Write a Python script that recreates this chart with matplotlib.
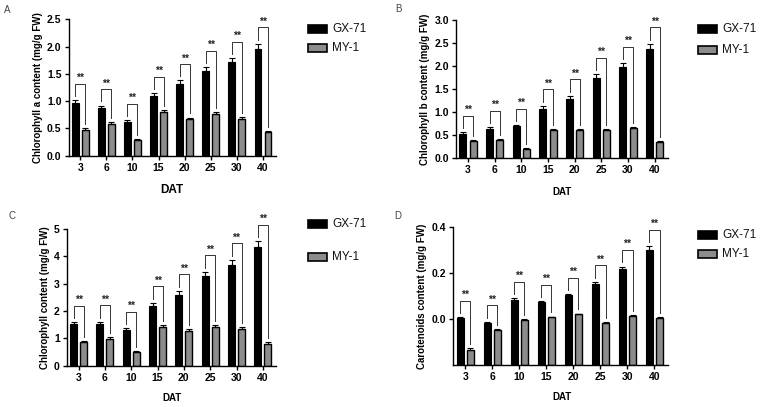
import numpy as np
import matplotlib
matplotlib.use("Agg")
import matplotlib.pyplot as plt
from matplotlib.patches import Rectangle

plt.rcParams['font.family'] = ['Liberation Sans', 'DejaVu Sans']

# données
dat = ["3", "6", "10", "15", "20", "25", "30", "40"]

chla_gx = [0.97, 0.87, 0.61, 1.10, 1.32, 1.55, 1.71, 1.95]
chla_gx_err = [0.05, 0.05, 0.04, 0.05, 0.06, 0.07, 0.08, 0.10]
chla_my = [0.47, 0.59, 0.28, 0.80, 0.67, 0.77, 0.68, 0.44]
chla_my_err = [0.03, 0.03, 0.02, 0.04, 0.03, 0.03, 0.03, 0.02]

chlb_gx = [0.53, 0.64, 0.69, 1.08, 1.28, 1.74, 1.97, 2.37]
chlb_gx_err = [0.03, 0.03, 0.03, 0.06, 0.07, 0.08, 0.09, 0.11]
chlb_my = [0.38, 0.39, 0.21, 0.62, 0.61, 0.62, 0.65, 0.36]
chlb_my_err = [0.02, 0.02, 0.01, 0.02, 0.03, 0.02, 0.03, 0.02]

chl_gx = [1.52, 1.52, 1.30, 2.18, 2.60, 3.28, 3.70, 4.33]
chl_gx_err = [0.08, 0.09, 0.08, 0.12, 0.14, 0.16, 0.17, 0.22]
chl_my = [0.85, 0.99, 0.50, 1.43, 1.28, 1.41, 1.33, 0.81]
chl_my_err = [0.06, 0.06, 0.03, 0.06, 0.06, 0.07, 0.07, 0.04]

car_gx = [0.004, -0.016, 0.084, 0.073, 0.102, 0.153, 0.215, 0.298]
car_gx_err = [0.003, 0.003, 0.005, 0.004, 0.004, 0.008, 0.012, 0.017]
car_my = [-0.135, -0.048, -0.003, 0.007, 0.020, -0.016, 0.013, 0.006]
car_my_err = [0.008, 0.004, 0.003, 0.003, 0.003, 0.003, 0.003, 0.003]

W, H = 764, 407
fig = plt.figure(figsize=(W / 100, H / 100), dpi=100)
GREY = '#8c8c8c'


def px_axes(x0, x1, ytop, ybot):
    return fig.add_axes([x0 / W, 1 - ybot / H, (x1 - x0) / W, (ybot - ytop) / H])


def ftext(px, py, s, **kw):
    fig.text(px / W, 1 - py / H, s, **kw)


def legende(x0, y_gx, y_my):
    # légende dessinée à la main (carrés + texte)
    for y, col, lab in [(y_gx, 'black', 'GX-71'), (y_my, GREY, 'MY-1')]:
        fig.patches.append(Rectangle((x0 / W, 1 - (y + 4) / H), 19 / W, 8 / H,
                                     facecolor=col, edgecolor='black', linewidth=1.2,
                                     transform=fig.transFigure, figure=fig))
        ftext(x0 + 24, y, lab, fontsize=8.5, ha='left', va='center', color='#111111')


def panel(ax, gx, gxe, my, mye, ymin, ymax, yticks, ylab, ticklabels):
    x = np.arange(len(dat))
    rng = ymax - ymin
    ax.bar(x - 0.19, np.array(gx) - ymin, bottom=ymin, width=0.26, color='black',
           edgecolor='black', linewidth=0.8)
    ax.bar(x + 0.19, np.array(my) - ymin, bottom=ymin, width=0.26, color=GREY,
           edgecolor='black', linewidth=1.0)
    ax.errorbar(x - 0.19, gx, yerr=[np.zeros(len(gx)), gxe], fmt='none', ecolor='black',
                elinewidth=0.8, capsize=2.5, capthick=0.8)
    ax.errorbar(x + 0.19, my, yerr=[np.zeros(len(my)), mye], fmt='none', ecolor='black',
                elinewidth=0.8, capsize=2.5, capthick=0.8)
    # crochets de significativité
    for i in range(len(x)):
        a = gx[i] + gxe[i]
        b = my[i] + mye[i]
        top = max(a, b) + 0.12 * rng
        ax.plot([x[i] - 0.19, x[i] - 0.19, x[i] + 0.19, x[i] + 0.19],
                [a + 0.03 * rng, top, top, b + 0.03 * rng], color='#333333', lw=0.7,
                clip_on=False)
        ax.text(x[i], top + 0.005 * rng, '**', ha='center', va='bottom', fontsize=7.5,
                fontweight='bold', color='#222222')
    ax.set_xlim(-0.45, 7.5)
    ax.set_ylim(ymin, ymax)
    ax.set_yticks(yticks)
    ax.set_yticklabels(ticklabels, fontsize=7.5, fontweight='bold')
    ax.set_xticks(x)
    ax.set_xticklabels(dat, fontsize=7.5, fontweight='bold')
    ax.tick_params(length=3, width=1, pad=2)
    for s in ['top', 'right']:
        ax.spines[s].set_visible(False)
    for s in ['left', 'bottom']:
        ax.spines[s].set_linewidth(1.0)
    ax.set_ylabel(ylab, fontsize=7, fontweight='bold', labelpad=3)


axA = px_axes(68.5, 276, 19.3, 155.7)
panel(axA, chla_gx, chla_gx_err, chla_my, chla_my_err, 0, 2.5,
      [0, 0.5, 1.0, 1.5, 2.0, 2.5], 'Chlorophyll a content (mg/g FW)',
      ['0.0', '0.5', '1.0', '1.5', '2.0', '2.5'])

axB = px_axes(456, 668, 20, 158.3)
panel(axB, chlb_gx, chlb_gx_err, chlb_my, chlb_my_err, 0, 3.0,
      [0, 0.5, 1.0, 1.5, 2.0, 2.5, 3.0], 'Chlorophyll b content (mg/g FW)',
      ['0.0', '0.5', '1.0', '1.5', '2.0', '2.5', '3.0'])

axC = px_axes(66.7, 276, 229, 365.7)
panel(axC, chl_gx, chl_gx_err, chl_my, chl_my_err, 0, 5,
      [0, 1, 2, 3, 4, 5], 'Chlorophyll content (mg/g FW)',
      ['0', '1', '2', '3', '4', '5'])

axD = px_axes(453, 668, 226.7, 365)
panel(axD, car_gx, car_gx_err, car_my, car_my_err, -0.2, 0.4,
      [0.0, 0.2, 0.4], 'Carotenoids content (mg/g FW)',
      ['0.0', '0.2', '0.4'])

legende(308, 29, 48)
legende(698, 29, 50)
legende(308, 224, 257)
legende(698, 235, 254)

ftext(172, 190, 'DAT', fontsize=8.5, fontweight='bold', ha='center', va='center')
ftext(562, 192, 'DAT', fontsize=7, fontweight='bold', ha='center', va='center')
ftext(172, 398, 'DAT', fontsize=7, fontweight='bold', ha='center', va='center')
ftext(562, 397, 'DAT', fontsize=7, fontweight='bold', ha='center', va='center')

for lab, (px, py) in {'A': (7, 10), 'B': (398, 9), 'C': (12, 216), 'D': (398, 216)}.items():
    ftext(px, py, lab, fontsize=7, color='#444444', ha='center', va='center')

fig.savefig('out.png', dpi=100)
